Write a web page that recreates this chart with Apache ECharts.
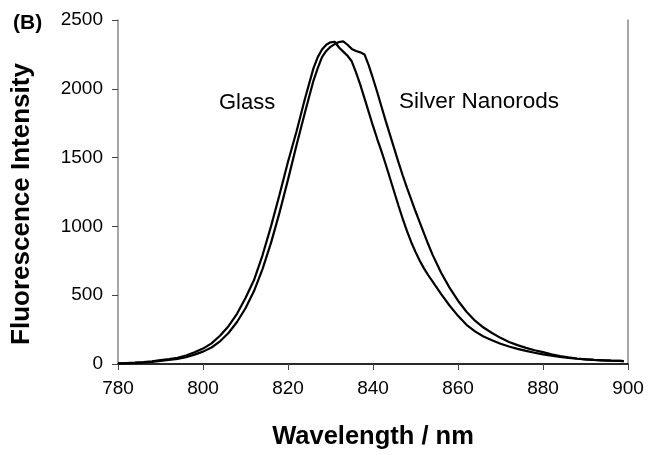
<!DOCTYPE html>
<html>
<head>
<meta charset="utf-8">
<script src="https://cdn.jsdelivr.net/npm/echarts@6/dist/echarts.min.js"></script>
<style>
html,body{margin:0;padding:0;background:#fff;}
#chart{width:648px;height:455px;}
</style>
</head>
<body>
<div id="chart"></div>
<script>
// Wavelength grid (nm)
var wavelengths = [780,782,784,786,788,790,792,794,796,798,800,802,804,806,808,810,812,814,816,818,820,822,824,826,827,828,829,830,831,832,833,834,835,836,837,838,839,840,841,842,843,844,845,846,847,848,849,850,851,852,853,854,856,858,860,862,864,866,868,870,872,874,876,878,880,882,884,886,888,890,892,894,896,898,899];
// Fluorescence intensity on glass
var glassValues = [5,7,10,14,20,28,36,45,62,85,112,150,205,275,365,480,610,790,1000,1230,1470,1690,1930,2150,2230,2285,2320,2338,2342,2300,2270,2240,2200,2120,2030,1930,1830,1730,1635,1545,1450,1350,1250,1150,1055,965,885,815,750,695,645,600,510,425,350,285,237,200,172,147,127,110,95,82,70,60,51,44,38,34,30,27,24,22,21];
// Fluorescence intensity on silver nanorods
var silverValues = [4,6,8,11,16,22,29,37,50,68,90,120,165,225,305,405,530,690,880,1100,1340,1590,1830,2060,2150,2230,2275,2305,2325,2340,2345,2320,2290,2275,2265,2250,2170,2075,1975,1870,1765,1665,1565,1465,1370,1280,1195,1110,1030,950,870,795,665,555,460,380,315,265,225,190,160,137,117,100,86,70,58,48,40,34,30,27,24,22,21];
var xTicks = [780,800,820,840,860,880,900];
var yTicks = [0,500,1000,1500,2000,2500];

function pairs(xs, ys){ return xs.map(function(x,i){ return [x, ys[i]]; }); }

var FONT = '"Liberation Sans", Arial, sans-serif';
var chart = echarts.init(document.getElementById('chart'), null, {renderer:'canvas'});
chart.setOption({
  animation:false,
  backgroundColor:'#ffffff',
  grid:{left:118,right:20,top:20,bottom:77},
  xAxis:[{
    type:'value', min:xTicks[0], max:xTicks[xTicks.length-1], interval:20,
    name:'Wavelength / nm', nameLocation:'middle', nameGap:60,
    nameTextStyle:{fontFamily:FONT,fontWeight:'bold',fontSize:25.5,color:'#000'},
    axisLine:{show:true,lineStyle:{color:'#888',width:1.5}},
    axisTick:{show:true,inside:false,length:6,lineStyle:{color:'#444',width:1}},
    axisLabel:{fontFamily:FONT,fontSize:19,color:'#000',margin:15,formatter:function(v){return String(v);}},
    splitLine:{show:false}
  },{
    type:'value', position:'top', min:780, max:900,
    axisLine:{show:true,lineStyle:{color:'#000',width:1.5}},
    axisTick:{show:false}, axisLabel:{show:false}, splitLine:{show:false}
  }],
  yAxis:[{
    type:'value', min:yTicks[0], max:yTicks[yTicks.length-1], interval:500,
    axisLine:{show:true,lineStyle:{color:'#888',width:1.5}},
    axisTick:{show:true,inside:false,length:6,lineStyle:{color:'#444',width:1}},
    axisLabel:{fontFamily:FONT,fontSize:19,color:'#000',margin:15,formatter:function(v){return String(v);}},
    splitLine:{show:false}
  },{
    type:'value', position:'right', min:0, max:2500,
    axisLine:{show:true,lineStyle:{color:'#888',width:1.5}},
    axisTick:{show:false}, axisLabel:{show:false}, splitLine:{show:false}
  }],
  graphic:[
    {type:'text', left:13, top:13, style:{text:'(B)', font:'bold 21px "Liberation Sans", Arial, sans-serif', fill:'#000'}},
    {type:'text', left:219, top:92, style:{text:'Glass', font:'22px "Liberation Sans", Arial, sans-serif', fill:'#000'}},
    {type:'text', left:399, top:90, style:{text:'Silver Nanorods', font:'22.5px "Liberation Sans", Arial, sans-serif', fill:'#000'}},
    {type:'text', x:22, y:204, rotation:Math.PI/2,
     style:{text:'Fluorescence Intensity', font:'bold 26px "Liberation Sans", Arial, sans-serif', fill:'#000',
            align:'center', verticalAlign:'middle', textAlign:'center', textVerticalAlign:'middle'}}
  ],
  series:[{
    name:'Glass', type:'line', data:pairs(wavelengths, glassValues),
    showSymbol:false, smooth:false, lineStyle:{color:'#000',width:2.2}, z:3
  },{
    name:'Silver Nanorods', type:'line', data:pairs(wavelengths, silverValues),
    showSymbol:false, smooth:false, lineStyle:{color:'#000',width:2.2}, z:3
  }]
});
</script>
</body>
</html>
